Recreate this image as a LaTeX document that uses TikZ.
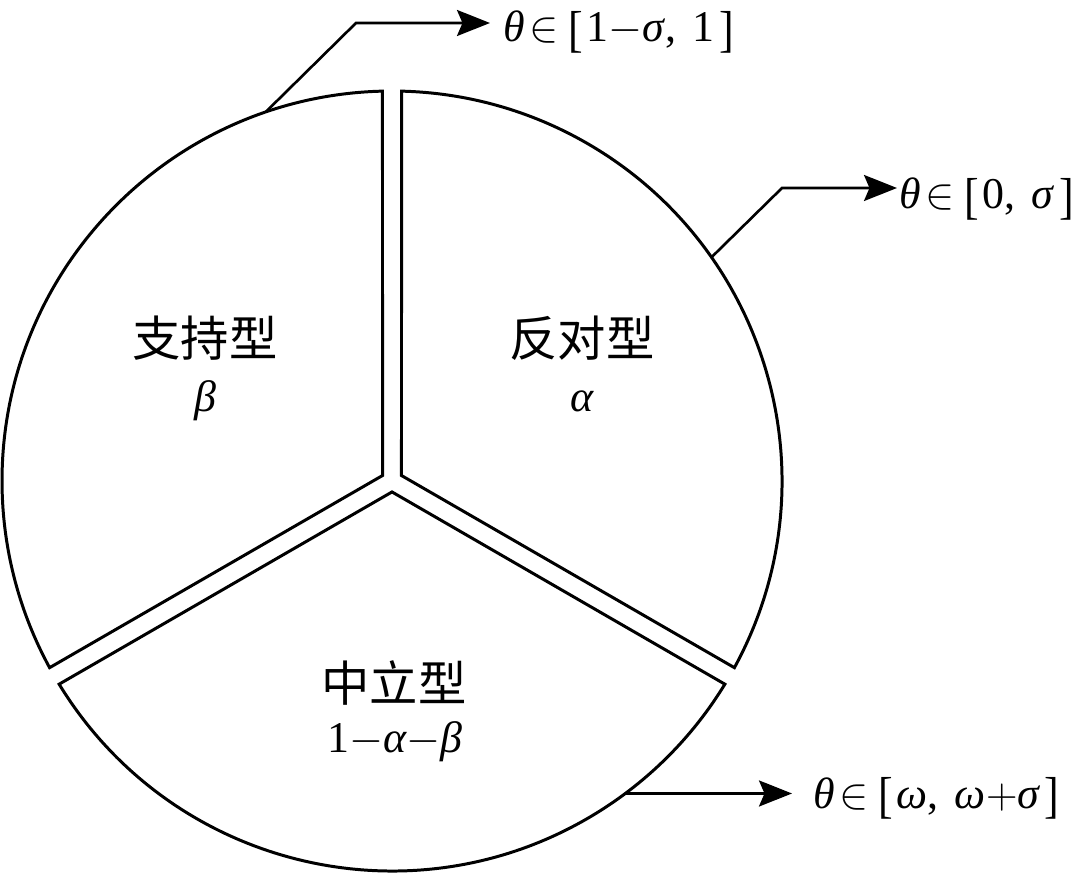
\documentclass[tikz,border=0pt]{standalone}
\usepackage{fontspec}
\setmainfont{Liberation Serif}
\newfontfamily\cjk{Noto Sans CJK SC}
\usetikzlibrary{arrows.meta}
\newcommand{\lbk}{\raisebox{-0.1em}{\scalebox{1}[1.15]{[}}\hspace{0.08em}}
\newcommand{\rbk}{\hspace{0.1em}\raisebox{-0.1em}{\scalebox{1}[1.15]{]}}}
\newcommand{\inn}{\hspace{0.1em}$\in$\hspace{0.22em}}
\newcommand{\cma}{,\hspace{0.38em}}
\begin{document}
\begin{tikzpicture}[
  part/.style={line width=1.7pt, line join=miter},
  lead/.style={line width=1.5pt, -{Stealth[length=0.66cm,width=0.52cm,inset=0.11cm]}},
  lbl/.style={inner sep=0pt, anchor=base west, font=\fontsize{25}{30}\selectfont},
  cn/.style={inner sep=0pt, font=\cjk\fontsize{27.5}{32}\selectfont},
  var/.style={inner sep=0pt, anchor=base, font=\fontsize{25}{30}\selectfont}
]
\useasboundingbox (0,0) rectangle (21.66,17.46);
\def\R{7.8}
\def\dl{1.4}
\coordinate (O) at (7.84,7.84);
% three sectors with gaps
\draw[part, shift={(O)}] (30:0.219) -- ({-30+\dl}:\R) arc[start angle={-30+\dl}, end angle={90-\dl}, radius=\R] -- cycle;
\draw[part, shift={(O)}] (150:0.219) -- ({90+\dl}:\R) arc[start angle={90+\dl}, end angle={210-\dl}, radius=\R] -- cycle;
\draw[part, shift={(O)}] (270:0.219) -- ({210+\dl}:\R) arc[start angle={210+\dl}, end angle={330-\dl}, radius=\R] -- cycle;
% pointer coordinates
\path[shift={(O)}] (108.9:\R) coordinate (p1) (35:\R) coordinate (p2) (-53.25:\R) coordinate (p3);
\coordinate (k1) at (7.12,17.0);
\coordinate (e1) at (9.8,17.0);
\coordinate (k2) at (15.64,13.7);
\coordinate (e2) at (17.94,13.7);
\coordinate (e3) at (15.84,1.6);
\draw[lead] (p1) -- (k1) -- (e1);
\draw[lead] (p2) -- (k2) -- (e2);
\draw[lead] (p3) -- (e3 |- p3);
% labels
\node[lbl] (t1) at (10.06,16.62) {\textit{θ}\inn\lbk 1$-$\textit{σ}\cma 1\rbk};
\node[lbl] (t2) at (17.98,13.28) {\textit{θ}\inn\lbk 0\cma\textit{σ}\rbk};
\node[lbl] (t3) at (16.26,1.3) {\textit{θ}\inn\lbk\textit{ω}\cma\textit{ω}$+$\textit{σ}\rbk};
% sector texts
\node[cn] (n1) at (4.1,10.7) {支持型};
\node[var] (v1) at (4.1,9.22) {\textit{β}};
\node[cn] (n2) at (11.64,10.7) {反对型};
\node[var] (v2) at (11.64,9.22) {\textit{α}};
\node[cn] (n3) at (7.88,3.8) {中立型};
\node[var] (v3) at (7.9,2.42) {1$-$\textit{α}$-$\textit{β}};
\end{tikzpicture}
\end{document}
